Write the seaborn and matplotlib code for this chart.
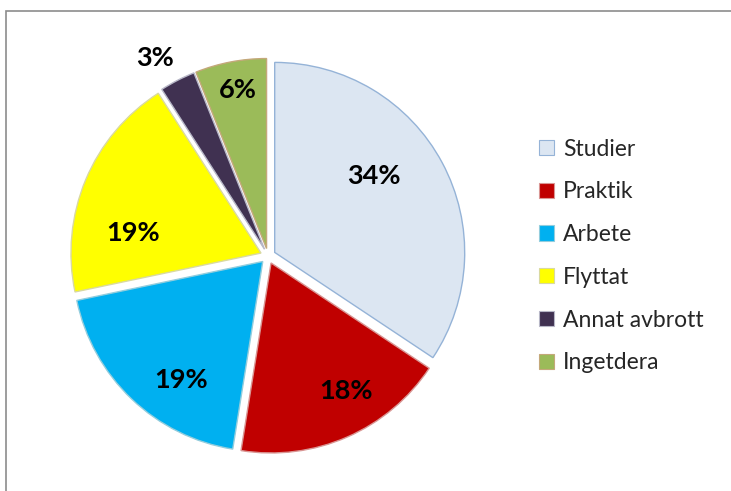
import matplotlib
matplotlib.use("Agg")
import matplotlib.pyplot as plt
import matplotlib.patches as mpatches
import seaborn as sns
import numpy as np

categories = ["Studier", "Praktik", "Arbete", "Flyttat", "Annat avbrott", "Ingetdera"]
values = [34, 18, 19, 19, 3, 6]
colors = ["#DCE6F2", "#C00000", "#00B0F0", "#FFFF00", "#403151", "#9BBB59"]
edge_colors = ["#95B3D7", "#D99694", "#93CDDD", "#D9D9A0", "#B7B7C7", "#C4A87A"]

# label placement (relative to each wedge apex): radius fraction, angle in degrees
label_dist = [0.66, 0.78, 0.755, 0.68, 1.16, 0.85]
label_angle = [37.5, -59.5, 235.5, 171.0, 119.7, 100.2]

sns.set_theme(style="white")
plt.rcParams["font.family"] = ["Lato", "DejaVu Sans"]

W, H = 731, 491
fig = plt.figure(figsize=(W / 100, H / 100), dpi=100)
fig.patch.set_facecolor("white")

# frame border
border = mpatches.Rectangle((5.5 / W, -0.1), 1.2, 1 - 10.5 / H + 0.1,
                            transform=fig.transFigure, fill=False,
                            edgecolor="#8C8C8C", linewidth=1.2)
fig.patches.append(border)

cx, cy, r = 268, 256, 190
half = 1.1 * r
ax = fig.add_axes([(cx - half) / W, (H - cy - half) / H, 2 * half / W, 2 * half / H])

wedges, texts, autotexts = ax.pie(
    values, colors=colors, startangle=90, counterclock=False,
    explode=[0.04] * len(values), radius=1.0,
    autopct=lambda p: f"{p:.0f}%", pctdistance=0.68,
    wedgeprops=dict(linewidth=1.0),
    textprops=dict(fontsize=19.5, fontweight="bold", color="black"),
)
ax.set_xlim(-1.1, 1.1)
ax.set_ylim(-1.1, 1.1)
ax.set_aspect("equal")
ax.axis("off")
for w, ec in zip(wedges, edge_colors):
    w.set_edgecolor(ec)

for w, t, d, a in zip(wedges, autotexts, label_dist, label_angle):
    ang = np.deg2rad(a)
    ox, oy = w.center
    t.set_position((ox + d * np.cos(ang), oy + d * np.sin(ang)))
    t.set_ha("center")
    t.set_va("center")

handles = [mpatches.Patch(facecolor=c, edgecolor=e, linewidth=0.8, label=l)
           for c, e, l in zip(colors, edge_colors, categories)]
fig.legend(handles=handles, loc="center left",
           bbox_to_anchor=(539 / W, 1 - 256 / H), frameon=False,
           fontsize=16.5, handlelength=0.65, handleheight=0.65,
           handletextpad=0.4, labelspacing=0.95, borderpad=0,
           borderaxespad=0)

fig.savefig("out.png", dpi=100, facecolor="white")
